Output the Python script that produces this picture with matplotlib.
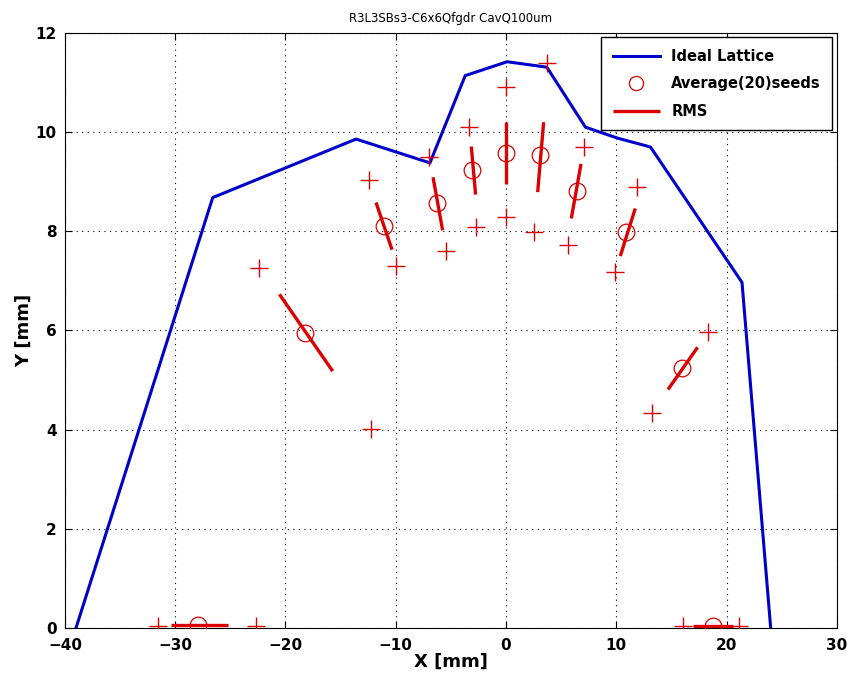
import numpy as np
import matplotlib
matplotlib.use('Agg')
import matplotlib.pyplot as plt

# ideal lattice outline
ideal_x = [-39.0, -26.6, -13.6, -6.9, -3.7, 0.1, 3.7, 7.2, 10.1, 13.1, 21.4, 24.0]
ideal_y = [0.0, 8.68, 9.86, 9.38, 11.14, 11.42, 11.31, 10.1, 9.88, 9.70, 6.97, 0.0]

# individual seed positions (crosses)
seed_x = [3.7, 0.0, -3.35, -7.0, 7.05, -12.4, 11.9, 0.0, -2.7, 2.5, 5.6, -5.4, -10.0, 9.85,
          -22.4, -12.25, 18.3, 13.2, -31.6, -22.7, 16.05, 21.1]
seed_y = [11.39, 10.92, 10.11, 9.5, 9.70, 9.03, 8.89, 8.28, 8.09, 7.99, 7.72, 7.60, 7.30, 7.18,
          7.27, 4.02, 5.96, 4.34, 0.05, 0.05, 0.05, 0.05]

# average of 20 seeds
avg_x = [0.0, 3.05, -3.05, 6.43, -6.26, -11.1, 10.9, -18.26, 15.95, -27.9, 18.8]
avg_y = [9.58, 9.53, 9.23, 8.81, 8.58, 8.10, 7.99, 5.94, 5.24, 0.06, 0.05]

# rms segments (start / end)
rms_x0 = [0.0, 3.41, -3.15, 6.8, -6.62, -11.79, 11.72, -20.55, 17.37, -30.4, 17.0]
rms_y0 = [10.2, 10.2, 9.71, 9.36, 9.09, 8.58, 8.46, 6.73, 5.66, 0.06, 0.05]
rms_x1 = [0.0, 2.87, -2.76, 5.92, -5.75, -10.34, 10.36, -15.72, 14.69, -25.2, 20.6]
rms_y1 = [8.95, 8.79, 8.74, 8.26, 8.02, 7.63, 7.5, 5.18, 4.81, 0.06, 0.05]

fig = plt.figure(figsize=(8.47, 6.87), dpi=100)
ax = fig.add_axes([0.0767, 0.0859, 0.9113, 0.8661])

ax.plot(ideal_x, ideal_y, color='#0000cc', lw=2.2, label='Ideal Lattice', zorder=3)
ax.plot(avg_x, avg_y, 'o', mfc='none', mec='#dd0000', ms=12, mew=0.9,
        label='Average(20)seeds', zorder=4)
for i in range(len(rms_x0)):
    ax.plot([rms_x0[i], rms_x1[i]], [rms_y0[i], rms_y1[i]], color='#dd0000', lw=2.4,
            solid_capstyle='butt', label='RMS' if i == 0 else None, zorder=4)
ax.plot(seed_x, seed_y, '+', color='#dd0000', ms=13, mew=1.0, zorder=4)

ax.set_xlim(-40, 30)
ax.set_ylim(0, 12)
ax.set_xticks(np.arange(-40, 31, 10))
ax.set_yticks(np.arange(0, 13, 2))
ax.grid(True, color='black', linestyle=(0, (1, 4)), linewidth=0.8)
ax.tick_params(direction='in', top=True, right=True, length=5, labelsize=11)
ax.tick_params(axis='x', pad=7)
ax.tick_params(axis='y', pad=6)
for lab in ax.get_xticklabels() + ax.get_yticklabels():
    lab.set_fontweight('bold')

ax.set_xlabel('X [mm]', fontsize=13, fontweight='bold', labelpad=0)
ax.set_ylabel('Y [mm]', fontsize=13, fontweight='bold', labelpad=2)
ax.set_title('R3L3SBs3-C6x6Qfgdr CavQ100um', fontsize=8.5, pad=8)

leg = ax.legend(loc='upper right', fancybox=False, edgecolor='black', framealpha=1,
                prop={'weight': 'bold', 'size': 10.5}, borderaxespad=0.3,
                borderpad=0.8, handlelength=3.2, labelspacing=0.85, markerscale=0.85)
leg.get_frame().set_linewidth(1.0)

plt.savefig('out.png', dpi=100)
